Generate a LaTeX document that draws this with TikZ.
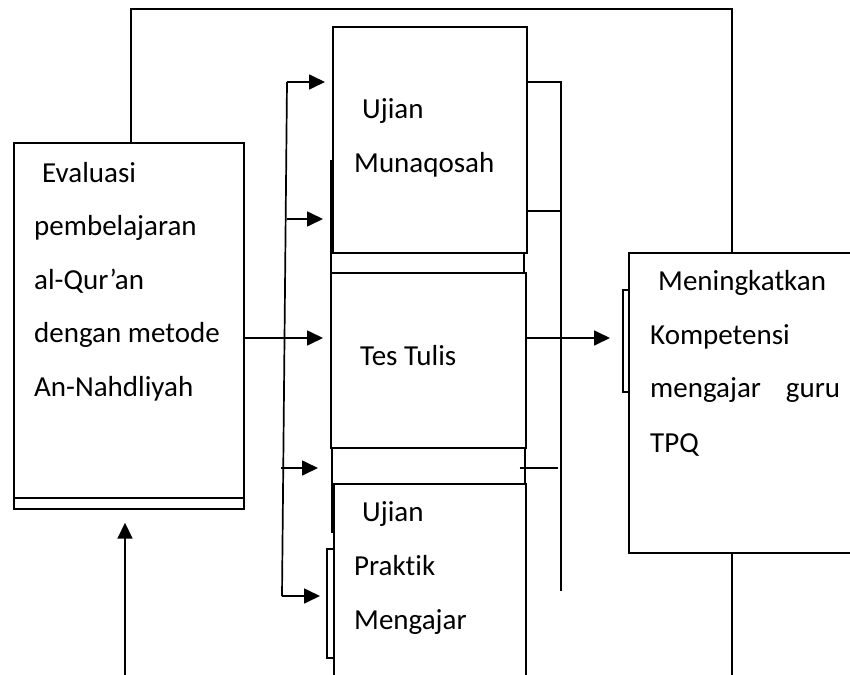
\documentclass[tikz,border=0pt]{standalone}
\usepackage{fontspec}
\setmainfont{Carlito}[Ligatures=NoCommon]
\usetikzlibrary{arrows.meta, positioning}

\begin{document}
\begin{tikzpicture}[
  x=1pt, y=-1pt,
  box/.style={draw, fill=white, line width=1.7pt, inner sep=0pt, anchor=north west},
  txt/.style={anchor=base west, inner sep=0pt, font=\fontsize{29}{54}\selectfont},
  wire/.style={line width=1.7pt},
  arr/.style={-{Triangle[length=16pt, width=15pt]}, line width=1.7pt}
]
\useasboundingbox (0,0) rectangle (850,674);

% boxes
\node[box, minimum width=230pt, minimum height=366pt] (evalbg) at (13,142) {};
\node[box, minimum width=230pt, minimum height=355pt] (eval) at (13,142) {};
\node[box, minimum width=193pt, minimum height=112pt] (munaqosahbg) at (330,160) {};
\node[box, minimum width=194pt, minimum height=226pt] (munaqosah) at (332,26) {};
\node[box, minimum width=193pt, minimum height=91pt] (tulisbg) at (331,440) {};
\node[box, minimum width=195pt, minimum height=175pt] (tulis) at (330,272) {};
\node[box, minimum width=7pt, minimum height=109pt] (praktikbr) at (326,548) {};
\node[box, minimum width=192pt, minimum height=200pt] (praktik) at (333,483) {};
\node[box, minimum width=7pt, minimum height=102pt] (kompetensibr) at (622,289) {};
\node[box, minimum width=230pt, minimum height=300pt] (kompetensi) at (628,252) {};

% texts
\foreach \t [count=\i] in {pembelajaran, al-Qur’an, dengan metode, An-Nahdliyah}
  \node[txt] (evaltext\i) at (34,182+53.5*\i) {\t};
\node[txt] (evaltext0) at (42,182) {Evaluasi};
\node[txt] (munaqosah1) at (362,118) {Ujian};
\node[txt] (munaqosah2) at (354,172) {Munaqosah};
\node[txt] (tulis1) at (360,365) {Tes Tulis};
\node[txt] (praktik1) at (362,521) {Ujian};
\node[txt] (praktik2) at (354,575) {Praktik};
\node[txt] (praktik3) at (354,629) {Mengajar};
\node[txt] (kompetensi1) at (658,290) {Meningkatkan};
\node[txt] (kompetensi2) at (650,344) {Kompetensi};
\node[txt] (kompetensi3) at (650,397) {\hbox to 190pt{mengajar\hfill guru}};
\node[txt] (kompetensi4) at (650,452) {TPQ};

% coordinates
\coordinate (split) at (287,338);
\coordinate (trunktop) at (287,82);
\coordinate (trunkbot) at (282,596);
\coordinate (b1) at (287,219);
\coordinate (b2) at (281,468);
\coordinate (rtop) at (561,82);
\coordinate (rbot) at (561,591);
\coordinate (rmid) at (560,211);
\coordinate (rlow) at (558,468);
\coordinate (back) at (732,9);
\coordinate (outb) at (732,676);
\coordinate (inb) at (125,676);

% connectors
\draw[wire] ([xshift=2pt]eval.north) |- (back) -- (back |- kompetensi.north);
\draw[wire] (outb |- kompetensi.south) -- (outb);
\draw[arr, shorten >=13pt] (inb) -- (inb |- evalbg.south);
\draw[wire] (trunktop) -- (trunkbot);
\draw[arr, shorten >=7pt] (trunktop) -- (munaqosah.west |- trunktop);
\draw[arr, shorten >=9pt] (b1) -- (munaqosah.west |- b1);
\draw[arr, shorten >=7pt] (eval.east |- split) -- (tulis.west |- split);
\draw[arr, shorten >=13pt] (b2) -- (tulisbg.west |- b2);
\draw[arr, shorten >=6pt] (trunkbot) -- (praktikbr.west |- trunkbot);
\draw[wire] (munaqosah.east |- rtop) -| (rbot);
\draw[wire] (munaqosah.east |- rmid) -- (rmid);
\draw[arr, shorten >=12pt] (tulis.east |- split) -- (kompetensibr.west |- split);
\draw[wire] ([xshift=-6pt]tulisbg.east |- rlow) -- (rlow);
\end{tikzpicture}
\end{document}
